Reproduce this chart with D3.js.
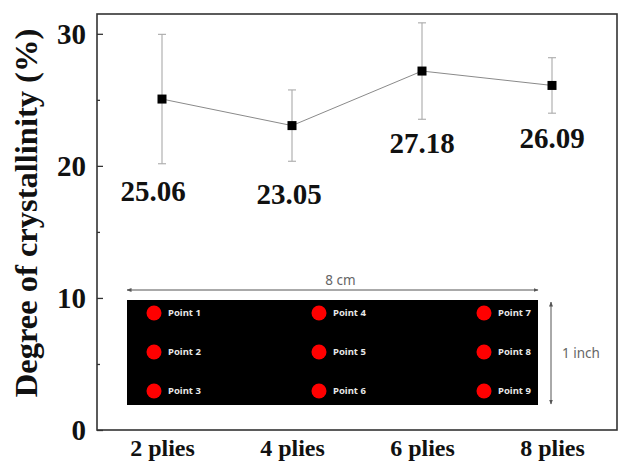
<!DOCTYPE html>
<html>
<head>
<meta charset="utf-8">
<script src="https://cdn.jsdelivr.net/npm/d3@7"></script>
<style>
  body { margin: 0; background: #fff; }
  svg { display: block; }
</style>
</head>
<body>
<svg id="chart" width="624" height="465"></svg>
<script>
// chart data
var categories = ["2 plies", "4 plies", "6 plies", "8 plies"];
var crystallinity = [25.06, 23.05, 27.18, 26.09];
var errors = [4.9, 2.7, 3.65, 2.1];
var yTicks = [0, 10, 20, 30];
var yMinorTicks = [5, 15, 25];

// inset: measuring points on the sample strip, by column
var pointColumns = [["Point 1", "Point 2", "Point 3"],
                    ["Point 4", "Point 5", "Point 6"],
                    ["Point 7", "Point 8", "Point 9"]];

var serif = "'Liberation Serif', 'Times New Roman', serif";
var sans = "'Noto Sans', 'DejaVu Sans', sans-serif";

var svg = d3.select("#chart");

// plot frame (window.top is reserved, so use other names)
var plotLeft = 97, plotRight = 617, plotTop = 14, plotBottom = 430;

var x = d3.scalePoint()
    .domain(categories)
    .range([plotLeft, plotRight])
    .padding(0.5);

var y = d3.scaleLinear()
    .domain([0, 31.5])
    .range([plotBottom, plotTop]);

// y axis, ticks pointing inward
var yAxis = svg.append("g")
    .attr("transform", "translate(" + plotLeft + ",0)")
    .call(d3.axisLeft(y).tickValues(yTicks).tickSizeInner(-6).tickSizeOuter(0).tickPadding(11));

yAxis.selectAll("text")
    .style("font-family", serif)
    .style("font-weight", "bold")
    .style("font-size", "29px")
    .attr("fill", "#111");

svg.append("g")
    .attr("transform", "translate(" + plotLeft + ",0)")
    .call(d3.axisLeft(y).tickValues(yMinorTicks).tickSizeInner(-3).tickSizeOuter(0).tickFormat(""));

svg.selectAll(".domain").remove();
svg.selectAll(".tick line").attr("stroke", "#333").attr("stroke-width", 1.3);

// x axis labels only
var xAxis = svg.append("g")
    .attr("transform", "translate(0," + plotBottom + ")")
    .call(d3.axisBottom(x).tickSize(0).tickPadding(9));
xAxis.select(".domain").remove();
xAxis.selectAll("text")
    .style("font-family", serif)
    .style("font-weight", "bold")
    .style("font-size", "24px")
    .attr("fill", "#111");

// frame
svg.append("rect")
    .attr("x", plotLeft)
    .attr("y", plotTop)
    .attr("width", plotRight - plotLeft)
    .attr("height", plotBottom - plotTop)
    .attr("fill", "none")
    .attr("stroke", "#333")
    .attr("stroke-width", 1.6);

// y axis title
svg.append("text")
    .attr("transform", "translate(37," + ((plotTop + plotBottom) / 2 - 9) + ") rotate(-90)")
    .attr("text-anchor", "middle")
    .style("font-family", serif)
    .style("font-weight", "bold")
    .style("font-size", "32.5px")
    .attr("fill", "#111")
    .text("Degree of crystallinity (%)");

var data = categories.map(function(c, i) {
    return { cat: c, value: crystallinity[i], err: errors[i] };
});

// error bars
var eb = svg.append("g").attr("stroke", "#aaa").attr("stroke-width", 1.1);
data.forEach(function(d) {
    var cx = x(d.cat);
    eb.append("line")
        .attr("x1", cx).attr("x2", cx)
        .attr("y1", y(d.value + d.err)).attr("y2", y(d.value - d.err));
    [d.value + d.err, d.value - d.err].forEach(function(v) {
        eb.append("line")
            .attr("x1", cx - 4).attr("x2", cx + 4)
            .attr("y1", y(v)).attr("y2", y(v));
    });
});

// connecting line
svg.append("path")
    .datum(data)
    .attr("fill", "none")
    .attr("stroke", "#8a8a8a")
    .attr("stroke-width", 1)
    .attr("d", d3.line().x(function(d) { return x(d.cat); }).y(function(d) { return y(d.value); }));

// markers
svg.selectAll(".marker")
    .data(data)
    .enter().append("rect")
    .attr("class", "marker")
    .attr("x", function(d) { return x(d.cat) - 4.5; })
    .attr("y", function(d) { return y(d.value) - 4.5; })
    .attr("width", 9)
    .attr("height", 9)
    .attr("fill", "#000");

// value labels under the error bars (hand-nudged like the original)
var nudgeX = [-9, -3, 0, 0];
var nudgeY = [37, 43, 34, 35];
svg.selectAll(".vlabel")
    .data(data)
    .enter().append("text")
    .attr("class", "vlabel")
    .attr("x", function(d, i) { return x(d.cat) + nudgeX[i]; })
    .attr("y", function(d, i) { return y(d.value - d.err) + nudgeY[i]; })
    .attr("text-anchor", "middle")
    .style("font-family", serif)
    .style("font-weight", "bold")
    .style("font-size", "29px")
    .attr("fill", "#111")
    .text(function(d) { return d.value.toFixed(2); });

// inset: sample strip with measuring points
var inset = { x: 127, y: 300, w: 411, h: 105 };

var defs = svg.append("defs");
defs.append("marker")
    .attr("id", "arrow")
    .attr("viewBox", "0 0 10 10")
    .attr("refX", 9).attr("refY", 5)
    .attr("markerWidth", 5).attr("markerHeight", 5)
    .attr("orient", "auto-start-reverse")
    .append("path")
    .attr("d", "M0,1 L10,5 L0,9 Z")
    .attr("fill", "#555");

svg.append("rect")
    .attr("x", inset.x)
    .attr("y", inset.y)
    .attr("width", inset.w)
    .attr("height", inset.h)
    .attr("fill", "#000");

var colX = d3.scalePoint().domain(d3.range(pointColumns.length)).range([inset.x + 27, inset.x + 357]);
var rowY = d3.scalePoint().domain(d3.range(pointColumns[0].length)).range([inset.y + 13, inset.y + 91]);

pointColumns.forEach(function(col, ci) {
    col.forEach(function(label, ri) {
        svg.append("circle")
            .attr("cx", colX(ci))
            .attr("cy", rowY(ri))
            .attr("r", 7.5)
            .attr("fill", "#f00");
        svg.append("text")
            .attr("x", colX(ci) + 14)
            .attr("y", rowY(ri))
            .attr("dy", "0.35em")
            .style("font-family", sans)
            .style("font-weight", "bold")
            .style("font-size", "9.5px")
            .attr("fill", "#e8e8e8")
            .text(label);
    });
});

// width dimension
svg.append("line")
    .attr("x1", inset.x).attr("x2", inset.x + inset.w)
    .attr("y1", inset.y - 10).attr("y2", inset.y - 10)
    .attr("stroke", "#555").attr("stroke-width", 1)
    .attr("marker-start", "url(#arrow)")
    .attr("marker-end", "url(#arrow)");
svg.append("text")
    .attr("x", inset.x + inset.w / 2 + 8)
    .attr("y", inset.y - 15)
    .attr("text-anchor", "middle")
    .style("font-family", sans)
    .style("font-size", "13.5px")
    .attr("fill", "#666")
    .text("8 cm");

// height dimension
svg.append("line")
    .attr("x1", inset.x + inset.w + 13).attr("x2", inset.x + inset.w + 13)
    .attr("y1", inset.y + 2).attr("y2", inset.y + inset.h - 1)
    .attr("stroke", "#555").attr("stroke-width", 1)
    .attr("marker-start", "url(#arrow)")
    .attr("marker-end", "url(#arrow)");
svg.append("text")
    .attr("x", inset.x + inset.w + 24)
    .attr("y", inset.y + 53)
    .attr("dy", "0.35em")
    .style("font-family", sans)
    .style("font-size", "13.5px")
    .attr("fill", "#666")
    .text("1 inch");
</script>
</body>
</html>
